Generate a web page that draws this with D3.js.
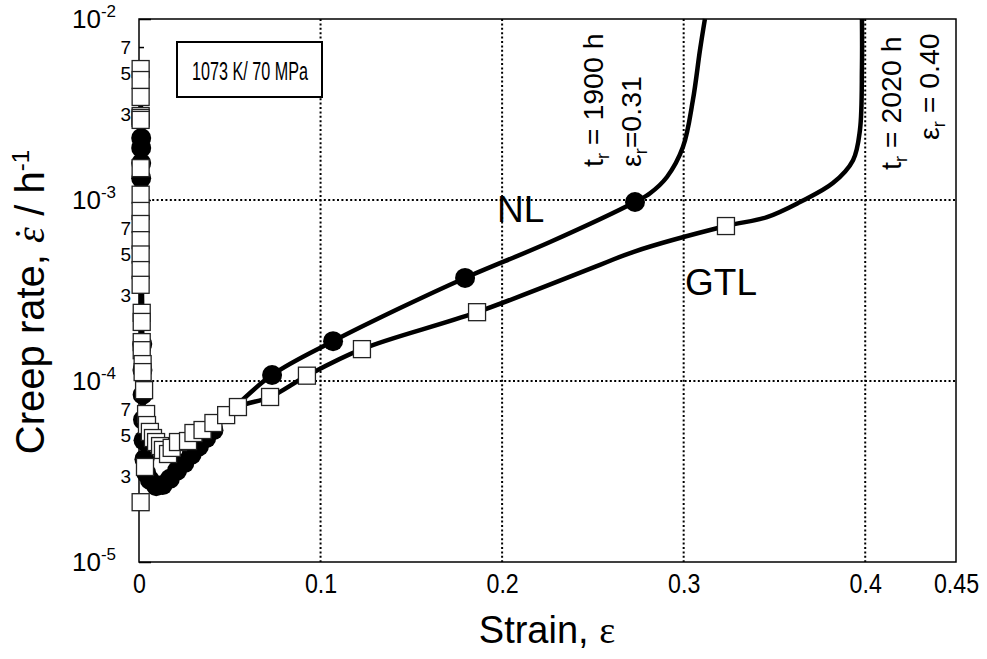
<!DOCTYPE html>
<html>
<head>
<meta charset="utf-8">
<script src="https://cdn.jsdelivr.net/npm/d3@7"></script>
<style>
  body { margin: 0; background: #fff; }
  text { font-family: "Liberation Sans", Arial, Helvetica, sans-serif; fill: #000; }
</style>
</head>
<body>
<svg id="chart" width="987" height="659"></svg>
<script>
// tick values
const xTicks = [0, 0.1, 0.2, 0.3, 0.4, 0.45];
const xGrid = [0.1, 0.2, 0.3, 0.4];
const yDecades = [1e-2, 1e-3, 1e-4, 1e-5];
const yGrid = [1e-3, 1e-4];
const yMinorDigits = [3, 5, 7];

// NL : measured points (filled circles)
const nlStrain = [0.0012, 0.0012, 0.0012, 0.0012, 0.0018,
  0.0019, 0.0020, 0.0022, 0.0025, 0.003, 0.004, 0.006, 0.0095, 0.013, 0.017,
  0.021, 0.025, 0.029, 0.033, 0.037, 0.041, 0.0733, 0.1069, 0.1796, 0.2732];
const nlRate = [2.2e-3, 1.94e-3, 1.6e-3, 1.32e-3, 1.6e-4,
  1.15e-4, 8.4e-5, 6.1e-5, 4.7e-5, 3.7e-5, 3.1e-5, 2.84e-5, 2.62e-5, 2.66e-5, 2.88e-5,
  3.2e-5, 3.52e-5, 3.92e-5, 4.35e-5, 4.83e-5, 5.35e-5, 1.08e-4, 1.66e-4, 3.71e-4, 9.75e-4];

// NL : fitted curve
const nlCurveStrain = [0.0011, 0.0011, 0.0011, 0.0017, 0.0022, 0.0044, 0.0088, 0.0143, 0.0226, 0.0336,
  0.0501, 0.0733, 0.1069, 0.1438, 0.1796, 0.2264, 0.2732, 0.2815, 0.2908, 0.2996,
  0.3051, 0.309, 0.3117];
const nlCurveRate = [2.44e-3, 1.0e-3, 2.81e-4, 1.01e-4, 4.72e-5, 3.14e-5, 2.66e-5, 2.7e-5, 3.3e-5, 4.43e-5,
  6.75e-5, 1.08e-4, 1.66e-4, 2.53e-4, 3.71e-4, 5.86e-4, 9.75e-4, 1.09e-3, 1.34e-3, 1.96e-3,
  3.57e-3, 6.75e-3, 1e-2];

// GTL : measured points (open squares)
const gtlStrain = [0.0009, 0.0009, 0.0009, 0.0009, 0.0009, 0.0009, 0.0009, 0.0009, 0.0009, 0.0009,
  0.0009, 0.0009, 0.0009, 0.0009, 0.0015, 0.0015, 0.0015, 0.0015, 0.0020, 0.0020,
  0.0028, 0.0039, 0.0044, 0.006, 0.0077, 0.0094, 0.0116, 0.0132, 0.016, 0.018,
  0.0215, 0.027, 0.030, 0.035, 0.041, 0.048, 0.0545, 0.0722, 0.0925, 0.1228,
  0.1862, 0.3233, 0.0033, 0.0009];
const gtlRate = [5.29e-3, 4.6e-3, 3.71e-3, 2.91e-3, 2.84e-3, 2.77e-3, 1.5e-3, 1.07e-3, 8.7e-4, 7.37e-4,
  6.0e-4, 5.0e-4, 4.1e-4, 3.4e-4, 2.38e-4, 2.12e-4, 1.64e-4, 1.48e-4, 1.24e-4, 1.12e-4,
  8.9e-5, 6.57e-5, 5.71e-5, 5.23e-5, 4.84e-5, 4.6e-5, 4.37e-5, 4.16e-5, 3.95e-5, 4.27e-5,
  4.6e-5, 4.66e-5, 5.16e-5, 5.36e-5, 5.86e-5, 6.48e-5, 7.18e-5, 8.16e-5, 1.07e-4, 1.5e-4,
  2.4e-4, 7.18e-4, 3.35e-5, 2.14e-5];

// GTL : fitted curve
const gtlCurveStrain = [0.0011, 0.0011, 0.0017, 0.0022, 0.0039, 0.0088, 0.0143, 0.0226, 0.0336, 0.0545,
  0.0722, 0.0925, 0.1228, 0.1862, 0.2539, 0.2721, 0.3233, 0.3459, 0.3641, 0.3822,
  0.3933, 0.3971, 0.3982, 0.3982];
const gtlCurveRate = [5.29e-3, 1.0e-3, 2.81e-4, 8.9e-5, 5.71e-5, 4.43e-5, 4.16e-5, 4.49e-5, 5.29e-5, 7.18e-5,
  8.16e-5, 1.07e-4, 1.5e-4, 2.4e-4, 4.38e-4, 5.16e-4, 7.18e-4, 8.05e-4, 9.75e-4, 1.24e-3,
  1.66e-3, 2.44e-3, 5.43e-3, 1e-2];

const svg = d3.select('#chart');
const margin = {top: 19, right: 31, bottom: 97, left: 139};
const width = 987 - margin.left - margin.right;
const height = 659 - margin.top - margin.bottom;

const x = d3.scaleLinear().domain([0, 0.45]).range([0, width]);
const y = d3.scaleLog().domain([1e-5, 1e-2]).range([height, 0]);

const g = svg.append('g')
  .attr('transform', 'translate(' + margin.left + ',' + margin.top + ')');

// dotted grid
g.selectAll('.vgrid')
  .data(xGrid)
  .enter().append('line')
  .attr('x1', d => x(d)).attr('x2', d => x(d))
  .attr('y1', 0).attr('y2', height)
  .attr('stroke', '#000').attr('stroke-width', 2).attr('stroke-dasharray', '2,2.4');
g.selectAll('.hgrid')
  .data(yGrid)
  .enter().append('line')
  .attr('x1', 0).attr('x2', width)
  .attr('y1', d => y(d)).attr('y2', d => y(d))
  .attr('stroke', '#000').attr('stroke-width', 2).attr('stroke-dasharray', '2,2.4');

// frame
g.append('rect')
  .attr('width', width).attr('height', height)
  .attr('fill', 'none').attr('stroke', '#000').attr('stroke-width', 1.5);

// x axis (labels drawn a bit condensed, like the original)
const xAxis = g.append('g')
  .attr('transform', 'translate(0,' + height + ')')
  .call(d3.axisBottom(x).tickValues(xTicks).tickSize(0).tickPadding(12).tickFormat(d => String(d)));
xAxis.select('.domain').remove();
xAxis.selectAll('text')
  .attr('font-size', 27)
  .attr('transform', 'scale(0.86,1)')
  .style('font-family', '"Liberation Sans", Arial, sans-serif');

// y axis: major ticks inside
const yAxis = g.append('g')
  .call(d3.axisLeft(y).tickValues(yDecades).tickSize(-12).tickFormat(''));
yAxis.select('.domain').remove();
yAxis.selectAll('line').attr('stroke-width', 1.5);

const minorVals = [];
yDecades.slice(1).forEach(dec => yMinorDigits.forEach(m => minorVals.push(dec * m)));
const yMinor = g.append('g')
  .call(d3.axisLeft(y).tickValues(minorVals).tickSize(-5).tickFormat(''));
yMinor.select('.domain').remove();
yMinor.selectAll('line').attr('stroke-width', 1.5);

// decade labels 10^n
const decLab = g.selectAll('.declab')
  .data(yDecades)
  .enter().append('text')
  .attr('x', -23).attr('y', d => y(d) + 9)
  .attr('text-anchor', 'end')
  .attr('font-size', 26);
decLab.append('tspan').text('10');
decLab.append('tspan').attr('dy', -11).attr('font-size', 17).text(d => Math.round(Math.log10(d)));

// minor labels
g.selectAll('.minlab')
  .data(minorVals)
  .enter().append('text')
  .attr('x', -8).attr('y', d => y(d) + 7)
  .attr('text-anchor', 'end')
  .attr('font-size', 19)
  .text(d => Math.round(d / Math.pow(10, Math.floor(Math.log10(d) + 1e-9))));

// curves
const line = d3.line()
  .x(d => x(d[0]))
  .y(d => y(d[1]))
  .curve(d3.curveCatmullRom.alpha(0.5));

g.append('path')
  .datum(nlCurveStrain.map((s, i) => [s, nlCurveRate[i]]))
  .attr('d', line)
  .attr('fill', 'none').attr('stroke', '#000').attr('stroke-width', 4.5);
g.append('path')
  .datum(gtlCurveStrain.map((s, i) => [s, gtlCurveRate[i]]))
  .attr('d', line)
  .attr('fill', 'none').attr('stroke', '#000').attr('stroke-width', 4.5);

// markers
g.selectAll('.nl')
  .data(nlStrain.map((s, i) => [s, nlRate[i]]))
  .enter().append('circle')
  .attr('cx', d => x(d[0])).attr('cy', d => y(d[1]))
  .attr('r', 10).attr('fill', '#000');

const sq = 17;
g.selectAll('.gtl')
  .data(gtlStrain.map((s, i) => [s, gtlRate[i]]))
  .enter().append('rect')
  .attr('x', d => x(d[0]) - sq / 2).attr('y', d => y(d[1]) - sq / 2)
  .attr('width', sq).attr('height', sq)
  .attr('fill', '#fff').attr('stroke', '#222').attr('stroke-width', 1.3);

// condition box
svg.append('rect')
  .attr('x', 177).attr('y', 42).attr('width', 145).attr('height', 55)
  .attr('fill', '#fff').attr('stroke', '#000').attr('stroke-width', 2);
svg.append('text')
  .attr('x', 192).attr('y', 80)
  .attr('font-size', 25)
  .attr('textLength', 116).attr('lengthAdjust', 'spacingAndGlyphs')
  .text('1073 K/ 70 MPa');

// series labels
svg.append('text').attr('x', 497).attr('y', 222).attr('font-size', 37).text('NL');
svg.append('text').attr('x', 685).attr('y', 295).attr('font-size', 37).text('GTL');

// rupture labels (rotated)
function rupLabel(px, py, sym, rest) {
  const t = svg.append('text')
    .attr('transform', 'translate(' + px + ',' + py + ') rotate(-90)')
    .attr('font-size', 28.5);
  t.append('tspan').text(sym);
  t.append('tspan').attr('dy', 6).attr('font-size', 18).text('r');
  t.append('tspan').attr('dy', -6).text(rest);
}
rupLabel(603, 167, 't', ' = 1900 h');
rupLabel(641, 167, 'ε', '=0.31');
rupLabel(901, 170, 't', ' = 2020 h');
rupLabel(939, 140, 'ε', ' = 0.40');

// axis titles
svg.append('text')
  .attr('x', 547).attr('y', 643).attr('text-anchor', 'middle')
  .attr('font-size', 38)
  .text('Strain, ')
  .append('tspan').style('font-family', '"Liberation Serif", "Times New Roman", serif').text('ε');

const yt = svg.append('text')
  .attr('transform', 'translate(44,302) rotate(-90)')
  .attr('text-anchor', 'middle')
  .attr('font-size', 40);
yt.append('tspan').text('Creep rate, ');
yt.append('tspan').style('font-family', '"Liberation Serif", "Times New Roman", serif')
  .attr('font-style', 'italic').text('ε');
yt.append('tspan').attr('dx', -13).attr('dy', -2)
  .style('font-family', '"Liberation Serif", "Times New Roman", serif').text('\u02D9');
yt.append('tspan').attr('dy', 2).text(' / h');
yt.append('tspan').attr('dy', -15).attr('font-size', 24).text('-1');
</script>
</body>
</html>
